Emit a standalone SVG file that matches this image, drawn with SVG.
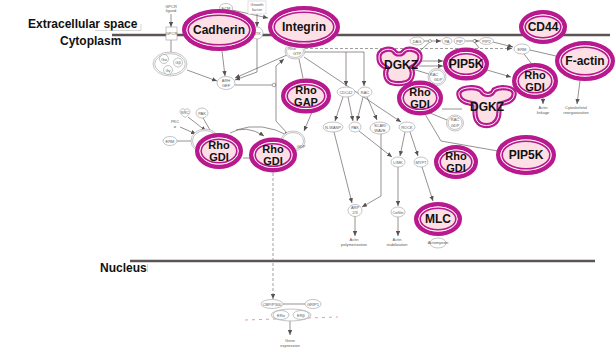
<svg xmlns="http://www.w3.org/2000/svg" width="616" height="349" viewBox="0 0 616 349">
<style>
.mem{stroke:#5c5353;stroke-width:2.6;fill:none}
.faint{stroke:#b8b8b8;stroke-width:0.6;fill:none}
.o{fill:#fde0e5;stroke:#b8198e;stroke-width:4.4}
.w{fill:none;stroke:#ffffff;stroke-width:1}
.i{fill:none;stroke:#b8198e;stroke-width:1.6}
.po{fill:#fde0e5;stroke:#b8198e;stroke-width:5.2;stroke-linejoin:round}
.pw{fill:none;stroke:#ffffff;stroke-width:1;stroke-linejoin:round}
.lbl{font-family:"Liberation Sans",Arial,sans-serif;font-weight:bold;font-size:12px;fill:#111;text-anchor:middle}
.lb2{font-family:"Liberation Sans",Arial,sans-serif;font-weight:bold;font-size:11px;fill:#111;text-anchor:middle}
.sec{font-family:"Liberation Sans",Arial,sans-serif;font-weight:bold;font-size:12px;fill:#111}
.sm{fill:#ffffff;stroke:#9c9c9c;stroke-width:0.6}
.st{font-family:"Liberation Sans",Arial,sans-serif;font-size:4px;fill:#5a5a5a;text-anchor:middle}
.ln{stroke:#6a6262;stroke-width:0.7;fill:none}
.ar{stroke:#6a6262;stroke-width:0.7;fill:none;marker-end:url(#ah)}
.da{stroke:#7a7272;stroke-width:0.7;fill:none;stroke-dasharray:3 2}
.pk{stroke:#f08aa0;stroke-width:0.9;fill:none;stroke-dasharray:3 4}
</style>
<defs>
<marker id="ah" markerUnits="userSpaceOnUse" markerWidth="6" markerHeight="5" refX="5" refY="2.2" orient="auto">
<path d="M0,0 L5,2.2 L0,4.4 z" fill="#5a5252"/>
</marker>
</defs>

<!-- compartments -->
<g id="compartments">
<line class="mem" x1="112" y1="35" x2="610" y2="35"/>
<line class="mem" x1="130" y1="261" x2="595" y2="261"/>
<text class="sec" x="28" y="28">Extracellular space</text>
<text class="sec" x="60" y="45">Cytoplasm</text>
<text class="sec" x="100" y="272">Nucleus</text>
<polyline class="faint" points="95,30.5 141,30.5 141,24"/>
<line class="faint" x1="147.5" y1="264" x2="147.5" y2="272"/>
</g>

<!-- connectors -->
<g id="connectors">
<line class="ar" x1="171" y1="14" x2="171" y2="27"/>
<line class="ln" x1="171" y1="40" x2="171" y2="52"/>
<line class="ar" x1="232" y1="10" x2="268" y2="18"/>
<line class="ar" x1="257" y1="14" x2="257" y2="27"/>
<line class="ar" x1="222" y1="51" x2="225" y2="76"/>
<polyline class="ar" points="257,39 257,72 235,80"/>
<line class="ar" x1="287" y1="55" x2="235" y2="78"/>
<line class="ar" x1="187" y1="70" x2="217" y2="81"/>
<line class="ln" x1="235" y1="85" x2="272" y2="85"/>
<circle cx="274" cy="85" r="1.8" fill="#fff" stroke="#6a6262" stroke-width="0.6"/>
<polyline class="ar" points="287,133 276,121 276,66 284,59"/>
<polyline class="ln" points="305,52 364,52"/>
<line class="ar" x1="346" y1="52" x2="346" y2="86"/>
<line class="ar" x1="364" y1="52" x2="364" y2="86"/>
<line class="da" x1="305" y1="48.5" x2="512" y2="48.5" marker-end="url(#ah)"/>
<line class="ar" x1="304" y1="57" x2="401" y2="122"/>
<line class="ln" x1="299" y1="59" x2="303" y2="78"/>
<line class="ar" x1="312" y1="112" x2="304" y2="131"/>
<line class="ar" x1="343" y1="97" x2="335" y2="121"/>
<line class="ar" x1="348" y1="97" x2="353" y2="121"/>
<line class="ar" x1="363" y1="97" x2="357" y2="121"/>
<line class="ar" x1="367" y1="97" x2="377" y2="120"/>
<line class="ar" x1="334" y1="132" x2="352" y2="203"/>
<polyline class="ar" points="381,133 381,196 362,207"/>
<line class="ar" x1="359" y1="131" x2="392" y2="157"/>
<line class="ar" x1="405" y1="132" x2="400" y2="156"/>
<line class="ar" x1="410" y1="132" x2="418" y2="156"/>
<line class="ar" x1="398" y1="167" x2="398" y2="206"/>
<line class="ar" x1="422" y1="167" x2="433" y2="201"/>
<line class="ar" x1="355" y1="216" x2="355" y2="236"/>
<line class="ar" x1="398" y1="217" x2="398" y2="236"/>
<line class="ar" x1="424" y1="41" x2="441" y2="41"/>
<line class="ln" x1="420" y1="51" x2="429" y2="42.5"/>
<circle cx="430" cy="41" r="1.5" fill="#fff" stroke="#6a6262" stroke-width="0.5"/>
<line class="ar" x1="465.5" y1="41" x2="479" y2="41"/>
<line class="ln" x1="479" y1="48" x2="475" y2="42.5"/>
<circle cx="474.5" cy="41" r="1.5" fill="#fff" stroke="#6a6262" stroke-width="0.5"/>
<line class="ar" x1="493" y1="42" x2="513" y2="47"/>
<line class="ln" x1="530" y1="50" x2="556" y2="56"/>
<line class="ln" x1="524" y1="54" x2="531" y2="63"/>
<line class="ar" x1="487" y1="70" x2="511" y2="77"/>
<line class="ar" x1="419" y1="61" x2="443" y2="61"/>
<line class="ar" x1="419" y1="66" x2="443" y2="66"/>
<line class="ln" x1="412" y1="69" x2="429" y2="74"/>
<line class="ar" x1="543" y1="98" x2="543" y2="104"/>
<line class="ar" x1="580" y1="81" x2="577" y2="104"/>
<line class="ln" x1="442" y1="109" x2="462" y2="109"/>
<line class="ln" x1="430" y1="113" x2="447" y2="120"/>
<polyline class="ln" points="425,114 441,141 498,151"/>
<line class="ar" x1="188" y1="117" x2="206" y2="131"/>
<line class="ln" x1="203" y1="118" x2="210" y2="130"/>
<line class="ar" x1="180" y1="127" x2="196" y2="134"/>
<line class="ln" x1="177" y1="141" x2="191" y2="141"/>
<path class="ar" d="M230,133 Q246,124 264,136"/>
<path class="ar" d="M236,130 Q262,121 289,136"/>
<line class="ln" x1="243" y1="158" x2="250" y2="158"/>
<line class="da" x1="273" y1="173" x2="273" y2="299" marker-end="url(#ah)"/>
<line class="ln" x1="283" y1="304" x2="305" y2="304"/>
<line class="ar" x1="290" y1="321" x2="290" y2="335"/>
<path class="pk" d="M245,320 L338,317"/>
</g>

<!-- small nodes -->
<g id="gpcr-ligand"><text class="st" x="171" y="7.5">GPCR</text><text class="st" x="171" y="12">ligand</text></g>
<g id="gpcr"><rect class="sm" x="166" y="27" width="11" height="13"/><text class="st" x="171.5" y="35">GPCR</text></g>
<g id="gprotein">
<ellipse class="sm" cx="170" cy="64" rx="17" ry="12"/>
<ellipse class="sm" cx="170" cy="64" rx="15.3" ry="10.4"/>
<circle class="sm" cx="164" cy="59" r="4.5"/><text class="st" x="164" y="60.5">Gα</text>
<circle class="sm" cx="178" cy="62.5" r="4.5"/><text class="st" x="178" y="64">Gβ</text>
<circle class="sm" cx="168" cy="70" r="4.5"/><text class="st" x="168" y="71.5">Gγ</text>
</g>
<g id="ecm"><ellipse class="sm" cx="226" cy="8" rx="6.5" ry="4.5"/><text class="st" x="226" y="9.5">ECM</text></g>
<g id="growth-factor"><rect x="248" y="1" width="18" height="13" fill="#fff" stroke="#c4c4c4" stroke-width="0.5"/><text class="st" x="257" y="6">Growth</text><text class="st" x="257" y="11">factor</text></g>
<g id="rtk"><ellipse class="sm" cx="257" cy="33" rx="6" ry="6"/><text class="st" x="257" y="34.5">RTK</text></g>
<g id="arhgef"><ellipse class="sm" cx="226" cy="83" rx="9" ry="6.5"/><text class="st" x="226" y="82">ARH</text><text class="st" x="226" y="87">GEF</text></g>
<g id="rhogtp"><ellipse class="sm" cx="295" cy="51" rx="10" ry="8"/><ellipse class="sm" cx="295" cy="51" rx="8.5" ry="6.5"/><text class="st" x="292" y="49.5">Rho</text><text class="st" x="297" y="55">GTP</text></g>
<g id="cdc42"><ellipse class="sm" cx="346" cy="92" rx="9" ry="5"/><text class="st" x="346" y="93.5">CDC42</text></g>
<g id="rac"><ellipse class="sm" cx="365" cy="92" rx="7" ry="5"/><text class="st" x="365" y="93.5">RAC</text></g>
<g id="nwasp"><ellipse class="sm" cx="333" cy="127" rx="10" ry="5"/><text class="st" x="333" y="128.5">N-WASP</text></g>
<g id="pak"><ellipse class="sm" cx="355" cy="127" rx="6" ry="5"/><text class="st" x="355" y="128.5">PAK</text></g>
<g id="scarwave"><ellipse class="sm" cx="380" cy="128" rx="10" ry="6"/><text class="st" x="380" y="126.5">SCAR/</text><text class="st" x="380" y="131.5">WAVE</text></g>
<g id="rock"><ellipse class="sm" cx="407" cy="127" rx="8" ry="5"/><text class="st" x="407" y="128.5">ROCK</text></g>
<g id="limk"><ellipse class="sm" cx="398" cy="162" rx="7" ry="5"/><text class="st" x="398" y="163.5">LIMK</text></g>
<g id="mypt"><ellipse class="sm" cx="421" cy="162" rx="7" ry="5"/><text class="st" x="421" y="163.5">MYPT</text></g>
<g id="arp23"><ellipse class="sm" cx="355" cy="210.5" rx="7" ry="6"/><text class="st" x="355" y="209">ARP</text><text class="st" x="355" y="214">2/3</text></g>
<g id="cofilin"><ellipse class="sm" cx="398" cy="212" rx="7" ry="5"/><text class="st" x="398" y="213.5">Cofilin</text></g>
<g id="actin-poly"><text class="st" x="354" y="241">Actin</text><text class="st" x="354" y="246">polymerization</text></g>
<g id="actin-stab"><text class="st" x="397" y="241">Actin</text><text class="st" x="397" y="246">stabilization</text></g>
<g id="actomyosin"><ellipse class="sm" cx="438" cy="243" rx="8" ry="5"/><text class="st" x="438" y="244">Actomyosin</text></g>
<g id="dag"><ellipse class="sm" cx="417" cy="41" rx="7" ry="4"/><text class="st" x="417" y="42.5">DAG</text></g>
<g id="pa"><ellipse class="sm" cx="447" cy="41" rx="5" ry="3.5"/><text class="st" x="447" y="42.5">PA</text></g>
<g id="pip"><ellipse class="sm" cx="459.5" cy="41" rx="5.5" ry="3.5"/><text class="st" x="459.5" y="42.5">PIP</text></g>
<g id="pip2"><ellipse class="sm" cx="486.5" cy="41" rx="7" ry="3.5"/><text class="st" x="486.5" y="42.5">PIP2</text></g>
<g id="erm-top"><ellipse class="sm" cx="522" cy="49" rx="8" ry="5"/><text class="st" x="522" y="50.5">ERM</text></g>
<g id="racgdp-top"><ellipse class="sm" cx="437" cy="77" rx="9" ry="8.5"/><ellipse class="sm" cx="437" cy="77" rx="7.5" ry="7"/><text class="st" x="434" y="75.5">RAC</text><text class="st" x="438" y="81">GDP</text></g>
<g id="racgdp-mid"><ellipse class="sm" cx="455" cy="123" rx="8.5" ry="8"/><ellipse class="sm" cx="455" cy="123" rx="7" ry="6.5"/><text class="st" x="455" y="121">RAC</text><text class="st" x="455" y="126.5">GDP</text></g>
<g id="actin-linkage"><text class="st" x="543" y="109">Actin</text><text class="st" x="543" y="113.5">linkage</text></g>
<g id="cyto-reorg"><text class="st" x="576" y="109">Cytoskeletal</text><text class="st" x="576" y="113.5">reorganization</text></g>
<g id="src"><path class="sm" d="M185,117.5 C179,114 179,110 182,109 C184,108 185,110 185,110.5 C185,110 186,108 188,109 C191,110 191,114 185,117.5 Z"/><text class="st" x="185" y="113.5">SRC</text></g>
<g id="pak-left"><ellipse class="sm" cx="202" cy="113" rx="6" ry="5"/><text class="st" x="202" y="114.5">PAK</text></g>
<g id="pkc"><text class="st" x="175" y="123">PKC</text><text class="st" x="175" y="128">α</text></g>
<g id="erm-left"><ellipse class="sm" cx="170" cy="141" rx="7" ry="4.5"/><text class="st" x="170" y="142.5">ERM</text></g>
<g id="complex-left"><ellipse class="sm" cx="205" cy="141" rx="14" ry="12"/><ellipse class="sm" cx="205" cy="141" rx="12.5" ry="10.5"/></g>
<g id="rhogdp"><ellipse class="sm" cx="293" cy="141" rx="12" ry="10"/><ellipse class="sm" cx="293" cy="141" rx="10.5" ry="8.5"/><text class="st" x="301" y="148">GDP</text></g>
<g id="cbp"><ellipse class="sm" cx="272" cy="304" rx="11" ry="4.5"/><text class="st" x="272" y="305.5">CBP/P300</text></g>
<g id="grip1"><ellipse class="sm" cx="313" cy="304" rx="8" ry="4.5"/><text class="st" x="313" y="305.5">GRIP1</text></g>
<g id="er"><ellipse class="sm" cx="291" cy="315" rx="20" ry="6"/><ellipse class="sm" cx="281" cy="315" rx="8" ry="4.5"/><text class="st" x="281" y="316.5">ERα</text><ellipse class="sm" cx="301" cy="315" rx="8" ry="4.5"/><text class="st" x="301" y="316.5">ERβ</text></g>
<g id="gene-expr"><text class="st" x="290" y="341.5">Gene</text><text class="st" x="290" y="346.5">expression</text></g>

<!-- big nodes -->
<g id="cadherin"><ellipse class="o" cx="219" cy="30" rx="34.8" ry="18.8"/><ellipse class="w" cx="219" cy="30" rx="32.1" ry="16.1"/><ellipse class="i" cx="219" cy="30" rx="30.8" ry="14.8"/><text class="lbl" x="219" y="34.3">Cadherin</text></g>
<g id="integrin"><ellipse class="o" cx="304" cy="27" rx="33.8" ry="18.8"/><ellipse class="w" cx="304" cy="27" rx="31.1" ry="16.1"/><ellipse class="i" cx="304" cy="27" rx="29.8" ry="14.8"/><text class="lbl" x="304" y="31.3">Integrin</text></g>
<g id="cd44"><ellipse class="o" cx="543" cy="27" rx="21.8" ry="14.8"/><ellipse class="w" cx="543" cy="27" rx="19.1" ry="12.1"/><ellipse class="i" cx="543" cy="27" rx="17.8" ry="10.8"/><text class="lbl" x="543" y="31.3">CD44</text></g>
<g id="factin"><ellipse class="o" cx="585" cy="61" rx="27.8" ry="17.8"/><ellipse class="w" cx="585" cy="61" rx="25.1" ry="15.1"/><ellipse class="i" cx="585" cy="61" rx="23.8" ry="13.8"/><text class="lbl" x="585" y="65.3">F-actin</text></g>
<g id="pip5k-top"><ellipse class="o" cx="466" cy="64" rx="20.8" ry="14.3"/><ellipse class="w" cx="466" cy="64" rx="18.1" ry="11.6"/><ellipse class="i" cx="466" cy="64" rx="16.8" ry="10.3"/><text class="lbl" x="466" y="68.3">PIP5K</text></g>
<g id="rhogdi-right"><ellipse class="o" cx="535" cy="81" rx="20.8" ry="15.8"/><ellipse class="w" cx="535" cy="81" rx="18.1" ry="13.1"/><ellipse class="i" cx="535" cy="81" rx="16.8" ry="11.8"/><text class="lb2" x="535" y="78.5">Rho</text><text class="lb2" x="535" y="91.3">GDI</text></g>
<g id="rhogdi-centre"><ellipse class="o" cx="420" cy="98" rx="20.8" ry="15.3"/><ellipse class="w" cx="420" cy="98" rx="18.1" ry="12.6"/><ellipse class="i" cx="420" cy="98" rx="16.8" ry="11.3"/><text class="lb2" x="420" y="95.5">Rho</text><text class="lb2" x="420" y="108.3">GDI</text></g>
<g id="rhogap"><ellipse class="o" cx="306" cy="96" rx="22.8" ry="15.3"/><ellipse class="w" cx="306" cy="96" rx="20.1" ry="12.6"/><ellipse class="i" cx="306" cy="96" rx="18.8" ry="11.3"/><text class="lb2" x="306" y="93.5">Rho</text><text class="lb2" x="306" y="106.3">GAP</text></g>
<g id="rhogdi-1"><ellipse class="o" cx="219" cy="151" rx="21.8" ry="15.8"/><ellipse class="w" cx="219" cy="151" rx="19.1" ry="13.1"/><ellipse class="i" cx="219" cy="151" rx="17.8" ry="11.8"/><text class="lb2" x="219" y="148.5">Rho</text><text class="lb2" x="219" y="161.3">GDI</text></g>
<g id="rhogdi-2"><ellipse class="o" cx="273" cy="155" rx="21.8" ry="15.3"/><ellipse class="w" cx="273" cy="155" rx="19.1" ry="12.6"/><ellipse class="i" cx="273" cy="155" rx="17.8" ry="11.3"/><text class="lb2" x="273" y="152.5">Rho</text><text class="lb2" x="273" y="165.3">GDI</text></g>
<g id="rhogdi-lower"><ellipse class="o" cx="456" cy="162" rx="19.8" ry="14.8"/><ellipse class="w" cx="456" cy="162" rx="17.1" ry="12.1"/><ellipse class="i" cx="456" cy="162" rx="15.8" ry="10.8"/><text class="lb2" x="456" y="159.5">Rho</text><text class="lb2" x="456" y="172.3">GDI</text></g>
<g id="pip5k-lower"><ellipse class="o" cx="526" cy="155" rx="27.8" ry="17.8"/><ellipse class="w" cx="526" cy="155" rx="25.1" ry="15.1"/><ellipse class="i" cx="526" cy="155" rx="23.8" ry="13.8"/><text class="lbl" x="526" y="159.3">PIP5K</text></g>
<g id="mlc"><ellipse class="o" cx="438" cy="219" rx="21.8" ry="14.8"/><ellipse class="w" cx="438" cy="219" rx="19.1" ry="12.1"/><ellipse class="i" cx="438" cy="219" rx="17.8" ry="10.8"/><text class="lbl" x="438" y="223.3">MLC</text></g>
<g id="dgkz-top">
<path class="po" d="M379,58 C378,50 389,47 394,51 C396,55 402,55 404,51 C409,47 421,50 420,58 C419,64 414,66 411,68 C414,74 412,82 404,83 C400,84 397,84 393,83 C386,82 384,74 387,68 C383,66 379,64 379,58 Z"/>
<path class="pw" d="M379,58 C378,50 389,47 394,51 C396,55 402,55 404,51 C409,47 421,50 420,58 C419,64 414,66 411,68 C414,74 412,82 404,83 C400,84 397,84 393,83 C386,82 384,74 387,68 C383,66 379,64 379,58 Z"/>
<text class="lbl" x="401" y="69.3">DGKZ</text>
</g>
<g id="dgkz-lower">
<path class="po" d="M459,95 C457,87 475,86 481,90 C484,96 492,96 494,90 C500,86 516,87 514,95 C513,102 504,103 499,104 C499,112 500,120 493,124 C489,126 484,126 480,124 C474,120 475,112 475,104 C469,103 460,102 459,95 Z"/>
<path class="pw" d="M459,95 C457,87 475,86 481,90 C484,96 492,96 494,90 C500,86 516,87 514,95 C513,102 504,103 499,104 C499,112 500,120 493,124 C489,126 484,126 480,124 C474,120 475,112 475,104 C469,103 460,102 459,95 Z"/>
<text class="lbl" x="487" y="111.3">DGKZ</text>
</g>
</svg>
